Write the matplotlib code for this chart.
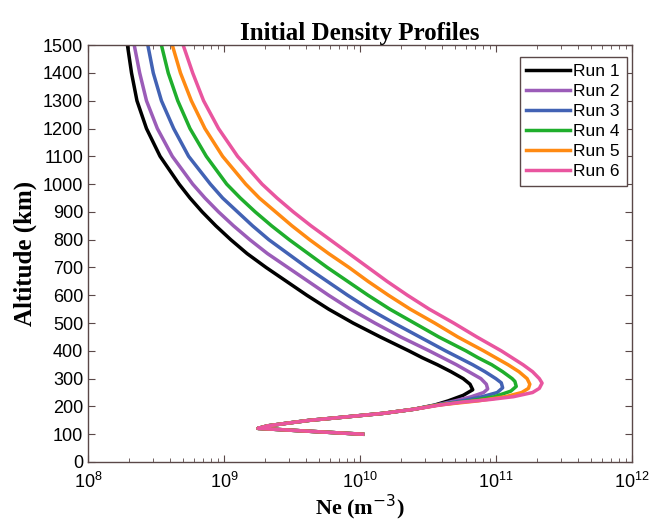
import matplotlib
matplotlib.use("Agg")
import matplotlib.pyplot as plt
import numpy as np

# Shared bottomside (all runs overlap below ~200 km), log10(Ne)
alt_low = [100, 110, 121, 130, 140, 150, 160, 175, 190]
log_low = [10.02, 9.65, 9.25, 9.32, 9.47, 9.63, 9.85, 10.17, 10.40]

# topside altitudes shared by every run
alt_top = [300, 325, 350, 375, 400, 450, 500, 550, 600, 650, 700, 750, 800,
           850, 900, 950, 1000, 1100, 1200, 1300, 1400, 1500]

# each run: altitudes around the peak, then log10(Ne) for those + alt_top
run1_alt = [205, 220, 240, 260, 280]
run1_log = [10.55, 10.65, 10.76, 10.83, 10.81,
            10.76, 10.67, 10.57, 10.46, 10.36, 10.15, 9.95, 9.77, 9.61, 9.46,
            9.31, 9.17, 9.05, 8.94, 8.84, 8.75, 8.67, 8.53, 8.43, 8.36, 8.32, 8.29]

run2_alt = [205, 220, 235, 250, 263, 280]
run2_log = [10.56, 10.70, 10.82, 10.91, 10.94, 10.93,
            10.89, 10.80, 10.71, 10.61, 10.51, 10.30, 10.11, 9.93, 9.77, 9.62,
            9.47, 9.32, 9.19, 9.07, 8.96, 8.86, 8.77, 8.62, 8.51, 8.43, 8.38, 8.34]

run3_alt = [205, 220, 235, 250, 267, 285]
run3_log = [10.57, 10.75, 10.90, 11.01, 11.05, 11.04,
            11.00, 10.92, 10.83, 10.73, 10.63, 10.44, 10.25, 10.07, 9.91, 9.76,
            9.61, 9.47, 9.33, 9.21, 9.10, 8.99, 8.90, 8.74, 8.63, 8.54, 8.48, 8.44]

run4_alt = [205, 220, 235, 255, 272, 290]
run4_log = [10.57, 10.81, 10.99, 11.11, 11.15, 11.14,
            11.12, 11.05, 10.97, 10.87, 10.78, 10.58, 10.40, 10.22, 10.06, 9.91,
            9.76, 9.62, 9.48, 9.35, 9.23, 9.12, 9.02, 8.87, 8.75, 8.66, 8.59, 8.54]

run5_alt = [205, 220, 235, 250, 265, 280]
run5_log = [10.58, 10.87, 11.07, 11.19, 11.24, 11.25,
            11.23, 11.17, 11.09, 11.00, 10.91, 10.72, 10.55, 10.37, 10.21, 10.06,
            9.92, 9.77, 9.63, 9.50, 9.38, 9.26, 9.16, 8.99, 8.86, 8.76, 8.68, 8.62]

run6_alt = [205, 215, 225, 235, 250, 265, 284]
run6_log = [10.59, 10.74, 10.96, 11.13, 11.27, 11.32, 11.34,
            11.32, 11.27, 11.20, 11.12, 11.04, 10.86, 10.69, 10.51, 10.35, 10.20,
            10.06, 9.92, 9.78, 9.64, 9.51, 9.39, 9.28, 9.10, 8.96, 8.85, 8.77, 8.70]

runs = [run1_alt, run2_alt, run3_alt, run4_alt, run5_alt, run6_alt]
logs = [run1_log, run2_log, run3_log, run4_log, run5_log, run6_log]
labels = ['Run 1', 'Run 2', 'Run 3', 'Run 4', 'Run 5', 'Run 6']
colors = ['#000000', '#9b5cb8', '#4262b4', '#1fae2c', '#ff8a12', '#e9559f']

fig = plt.figure(figsize=(6.52, 5.25), dpi=100)
ax = fig.add_axes([0.135, 0.12, 0.834, 0.794])

for a, l, lab, c in zip(runs, logs, labels, colors):
    alt = alt_low + a + alt_top
    ne = 10 ** np.array(log_low + l)
    ax.plot(ne, alt, color=c, lw=2.5, label=lab, solid_joinstyle='round')

ax.set_xscale('log')
ax.set_xlim(1e8, 1e12)
ax.set_ylim(0, 1500)
ax.set_yticks(np.arange(0, 1501, 100))
ax.tick_params(which='both', direction='in', top=True, right=True,
               labelsize=13, colors='#5a4848', labelcolor='black')
ax.tick_params(which='major', length=5)
ax.tick_params(which='minor', length=3)
ax.tick_params(axis='x', pad=7)
for s in ax.spines.values():
    s.set_color('#5a4848')
    s.set_linewidth(1.0)

for t in ax.get_xticklabels() + ax.get_yticklabels():
    t.set_family('Liberation Sans')

ax.set_title('Initial Density Profiles', family='Liberation Serif',
             fontweight='bold', fontsize=18, pad=4)
ax.set_ylabel('Altitude (km)', family='Liberation Serif', fontweight='bold',
              fontsize=18, labelpad=4)
ax.set_xlabel('Ne (m$^{-3}$)', family='Liberation Serif', fontweight='bold',
              fontsize=16, labelpad=1)

leg = ax.legend(loc='upper right', bbox_to_anchor=(0.991, 0.972),
                handlelength=2.5, handletextpad=0.2, labelspacing=0.28,
                borderpad=0.4, fancybox=False, framealpha=1, borderaxespad=0,
                prop={'family': 'Liberation Sans', 'size': 12.5})
leg.get_frame().set_edgecolor('#5a4848')
leg.get_frame().set_linewidth(1.0)

fig.savefig('out.png', dpi=100)
